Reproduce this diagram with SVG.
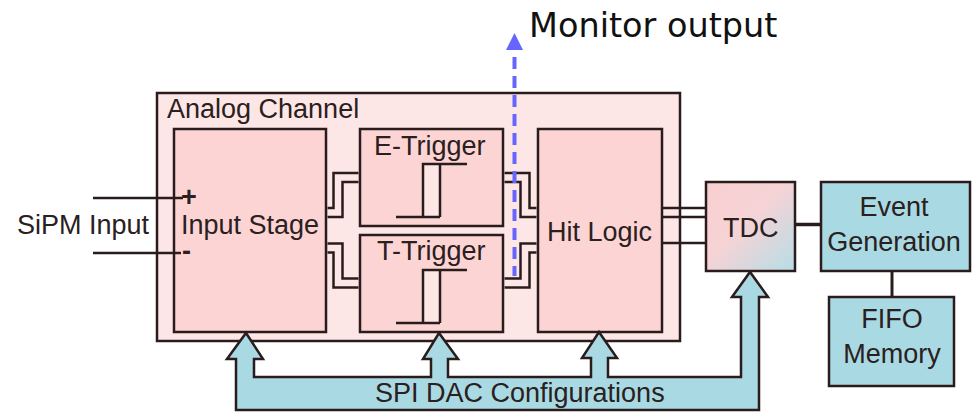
<svg xmlns="http://www.w3.org/2000/svg" width="979" height="412" viewBox="0 0 979 412">
<defs>
<style>
.box{fill:#fcd4d4;stroke:#2a1c1c;stroke-width:2.5}
.outer{fill:#fde6e6;stroke:#2a1c1c;stroke-width:2.5}
.blue{fill:#a9d9e3;stroke:#2a1c1c;stroke-width:2.5}
.t{font-family:"Liberation Sans",Arial,sans-serif;font-size:27px;fill:#2a2020}
.w{fill:none;stroke:#2a1c1c;stroke-width:2.5}
.dw{fill:none;stroke:#2a1c1c;stroke-width:11.5;stroke-linejoin:miter}
.dwi{fill:none;stroke:#fde6e6;stroke-width:6.5;stroke-linejoin:miter}
.hy{fill:none;stroke:#2a1c1c;stroke-width:2.5}
</style>
<linearGradient id="tdcg" x1="0" y1="0" x2="1" y2="1">
<stop offset="0" stop-color="#f9cfd0"/>
<stop offset="0.45" stop-color="#f6d3d6"/>
<stop offset="1" stop-color="#b6dde6"/>
</linearGradient>
</defs>
<rect width="979" height="412" fill="#ffffff"/>

<g id="analog-channel">
<rect class="outer" x="157" y="93" width="523" height="248"/>
<text class="t" x="167" y="118">Analog Channel</text>
</g>

<g id="input-stage">
<rect class="box" x="174" y="129" width="152" height="203"/>
<text class="t" x="181" y="234">Input Stage</text>
</g>

<g id="e-trigger">
<rect class="box" x="360" y="129" width="143" height="97"/>
<text class="t" x="374" y="155">E-Trigger</text>
<rect x="423" y="164" width="17" height="53" fill="#fde6e6"/>
<path class="hy" d="M396 217H440M423 217V164H467M440 217V164"/>
</g>

<g id="t-trigger">
<rect class="box" x="360" y="235" width="143" height="97"/>
<text class="t" x="377" y="260">T-Trigger</text>
<rect x="423" y="270" width="17" height="53" fill="#fde6e6"/>
<path class="hy" d="M396 323H440M423 323V270H467M440 323V270"/>
</g>

<g id="hit-logic">
<rect class="box" x="538" y="129" width="124" height="203"/>
<text class="t" x="547" y="241">Hit Logic</text>
</g>

<g id="tdc">
<rect x="706" y="182" width="89" height="89" fill="url(#tdcg)" stroke="#2a1c1c" stroke-width="2.5"/>
<text class="t" x="723" y="237">TDC</text>
</g>

<g id="event-generation">
<rect class="blue" x="821" y="182" width="149" height="89"/>
<text class="t" x="894" y="216" text-anchor="middle">Event</text>
<text class="t" x="894" y="251" text-anchor="middle">Generation</text>
</g>

<g id="fifo-memory">
<rect class="blue" x="829" y="297" width="125" height="89"/>
<text class="t" x="892" y="328" text-anchor="middle">FIFO</text>
<text class="t" x="892" y="363" text-anchor="middle">Memory</text>
</g>

<g id="spi-dac">
<path class="blue" stroke-linejoin="miter" d="M246 333L263 359H254V377H431V359H423L439 333L458 359H448V377H591V358H582L599 332L617 358H608V377H741V297H732L750 272L768 297H759V410H236V359H227Z"/>
<text class="t" x="375" y="402">SPI DAC Configurations</text>
</g>

<g id="sipm-input">
<text class="t" x="17" y="234">SiPM Input</text>
</g>

<g id="connectors">
<path class="w" d="M93 198H183M93 253H181"/>
<text class="t" x="181" y="205.5" font-size="22" font-weight="bold">+</text>
<text class="t" x="182" y="260" font-size="20" font-weight="bold">-</text>
<path class="dw" d="M327.5 212.5H338V177.5H358.5"/>
<path class="dwi" d="M327.5 212.5H338V177.5H358.5"/>
<path class="dw" d="M327.5 248H338V283H358.5"/>
<path class="dwi" d="M327.5 248H338V283H358.5"/>
<path class="dw" d="M504.5 177.5H525V212.5H536.5"/>
<path class="dwi" d="M504.5 177.5H525V212.5H536.5"/>
<path class="dw" d="M504.5 283H525V248H536.5"/>
<path class="dwi" d="M504.5 283H525V248H536.5"/>
<path class="w" d="M662 208H706M662 217H706M662 243H706"/>
<path fill="none" stroke="#2a1c1c" stroke-width="3.5" d="M795 224.5H821"/>
<path fill="none" stroke="#2a1c1c" stroke-width="3" d="M892 271V297"/>
<path fill="none" stroke="#6666ff" stroke-width="4" stroke-dasharray="12 7" d="M514.5 57V276"/>
<path fill="#6666ff" d="M514.5 33L523 50H506Z"/>
</g>

<g id="monitor-output">
<text x="529" y="37" font-family="'DejaVu Sans',sans-serif" font-size="33.5" fill="#111">Monitor output</text>
</g>
</svg>
